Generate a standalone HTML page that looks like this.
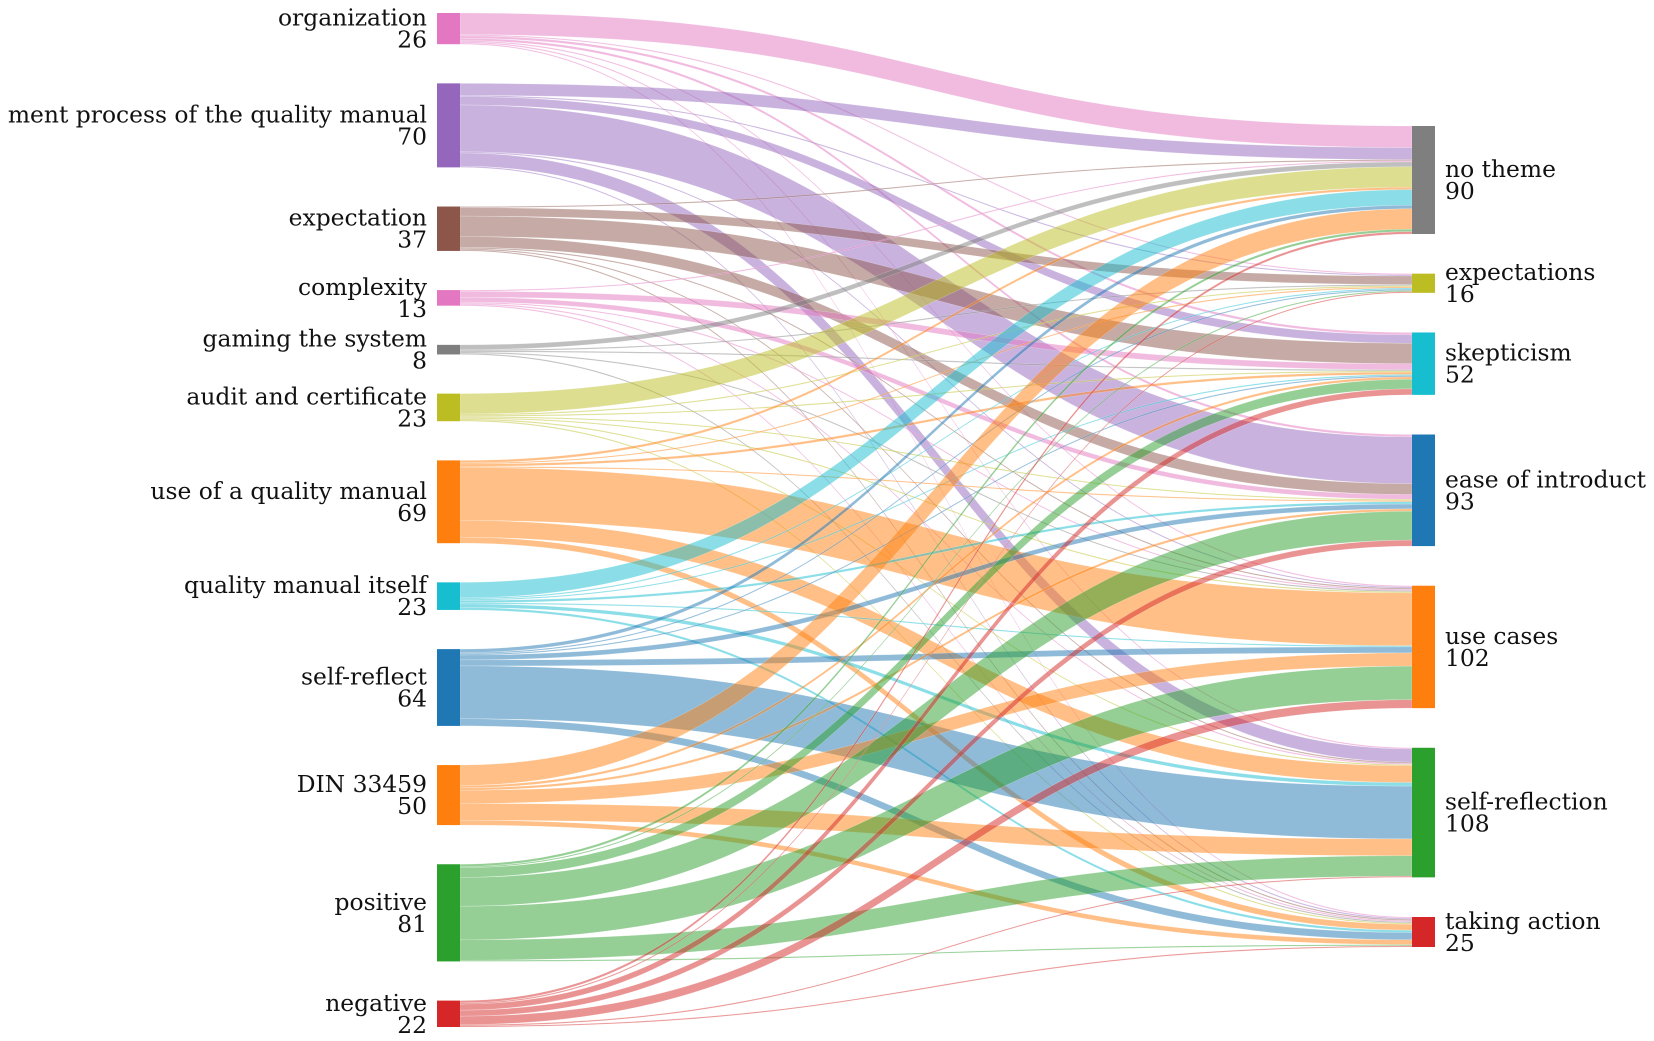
<!DOCTYPE html>
<html><head><meta charset="utf-8"><style>
html,body{margin:0;padding:0;background:#fff;overflow:hidden}
svg{display:block}
text{font-family:"DejaVu Serif","Liberation Serif",serif;font-size:23.4px;fill:#111}
</style></head><body>
<svg id="chart" width="1654" height="1041" viewBox="0 0 1654 1041" xmlns="http://www.w3.org/2000/svg">
<defs><clipPath id="lblclip"><rect x="7" y="0" width="1639" height="1041"/></clipPath></defs>
<g id="links"></g>
<g id="nodes"></g>
<g id="labels" clip-path="url(#lblclip)"></g>
</svg>
<script>
const sourceNames = ["organization","development process of the quality manual","expectation","complexity","gaming the system","audit and certificate","use of a quality manual","quality manual itself","self-reflect","DIN 33459","positive","negative"];
const targetNames = ["no theme","expectations","skepticism","ease of introduction","use cases","self-reflection","taking action"];
const sourceColors = ["#e377c2","#9467bd","#8c564b","#e377c2","#7f7f7f","#bcbd22","#ff7f0e","#17becf","#1f77b4","#ff7f0e","#2ca02c","#d62728"];
const targetColors = ["#7f7f7f","#bcbd22","#17becf","#1f77b4","#ff7f0e","#2ca02c","#d62728"];
// flows[source][target]
const flowOrganization = [18,1,2,2,1,1,1];
const flowDevelopment  = [10,1,7,39,1,11,1];
const flowExpectation  = [1,7,17,9,1,1,1];
const flowComplexity   = [1,0,5,4,1,1,1];
const flowGaming       = [4,1,1,0,1,0,1];
const flowAudit        = [17,1,1,1,1,1,1];
const flowUseManual    = [2,1,2,1,44,14,5];
const flowManualItself = [13,1,1,2,1,3,2];
const flowSelfReflect  = [3,1,1,4,5,44,6];
const flowDIN          = [17,0,2,2,11,14,4];
const flowPositive     = [2,1,8,24,28,17,1];
const flowNegative     = [2,1,5,5,7,1,1];
const flows = [flowOrganization,flowDevelopment,flowExpectation,flowComplexity,flowGaming,flowAudit,flowUseManual,flowManualItself,flowSelfReflect,flowDIN,flowPositive,flowNegative];

const NS="http://www.w3.org/2000/svg";
const k=1.2, xL0=437, xL1=460, xR0=1412, xR1=1435;
const leftTop=13, leftBottom=1027, rightTop=126, rightBottom=947;
const srcTot=flows.map(r=>r.reduce((a,b)=>a+b,0));
const tgtTot=targetNames.map((_,j)=>flows.reduce((a,r)=>a+r[j],0));
const total=srcTot.reduce((a,b)=>a+b,0);
const gapL=(leftBottom-leftTop-total*k)/(sourceNames.length-1);
const gapR=(rightBottom-rightTop-total*k)/(targetNames.length-1);
const sY=[],tY=[];
let y=leftTop;srcTot.forEach(v=>{sY.push(y);y+=v*k+gapL;});
y=rightTop;tgtTot.forEach(v=>{tY.push(y);y+=v*k+gapR;});
const gL=document.getElementById('links'),gN=document.getElementById('nodes'),gT=document.getElementById('labels');
const sOff=sY.slice(),tOff=tY.slice();
const linkInfo=[];
for(let i=0;i<flows.length;i++)for(let j=0;j<targetNames.length;j++){
  const v=flows[i][j]; if(!v) continue;
  linkInfo.push({i,j,v,sy:sOff[i]});sOff[i]+=v*k;
}
const tpos={};
for(let j=0;j<targetNames.length;j++)for(let i=0;i<flows.length;i++){
  const v=flows[i][j]; if(!v) continue; tpos[i+'_'+j]=tOff[j];tOff[j]+=v*k;
}
const xm=(xL1+xR0)/2;
linkInfo.forEach(l=>{
  const w=l.v*k,a=l.sy,b=tpos[l.i+'_'+l.j];
  const p=document.createElementNS(NS,'path');
  p.setAttribute('d',`M${xL1},${a}C${xm},${a} ${xm},${b} ${xR0},${b}L${xR0},${b+w}C${xm},${b+w} ${xm},${a+w} ${xL1},${a+w}Z`);
  p.setAttribute('fill',sourceColors[l.i]);p.setAttribute('fill-opacity','0.5');
  p.setAttribute('stroke','#fff');p.setAttribute('stroke-opacity','0.35');p.setAttribute('stroke-width','0.5');
  
  
  gL.appendChild(p);
});
function label(x,yMid,name,val,anchor,key){
  const t=document.createElementNS(NS,'text');
  t.setAttribute('text-anchor',anchor);
  const a=document.createElementNS(NS,'tspan');a.setAttribute('x',x);a.setAttribute('y',yMid-3);a.textContent=name;
  const b=document.createElementNS(NS,'tspan');b.setAttribute('x',x);b.setAttribute('y',yMid+19);b.textContent=val;
  t.appendChild(a);t.appendChild(b);
  
  
  gT.appendChild(t);
}
sourceNames.forEach((n,i)=>{
  const r=document.createElementNS(NS,'rect');
  r.setAttribute('x',xL0);r.setAttribute('y',sY[i]);r.setAttribute('width',xL1-xL0);r.setAttribute('height',srcTot[i]*k);r.setAttribute('fill',sourceColors[i]);
  
  
  gN.appendChild(r);
  label(427,sY[i]+srcTot[i]*k/2,n,srcTot[i],'end','source-'+i);
});
targetNames.forEach((n,j)=>{
  const r=document.createElementNS(NS,'rect');
  r.setAttribute('x',xR0);r.setAttribute('y',tY[j]);r.setAttribute('width',xR1-xR0);r.setAttribute('height',tgtTot[j]*k);r.setAttribute('fill',targetColors[j]);
  
  
  gN.appendChild(r);
  label(1445,tY[j]+tgtTot[j]*k/2,n,tgtTot[j],'start','target-'+j);
});
</script>
</body></html>
